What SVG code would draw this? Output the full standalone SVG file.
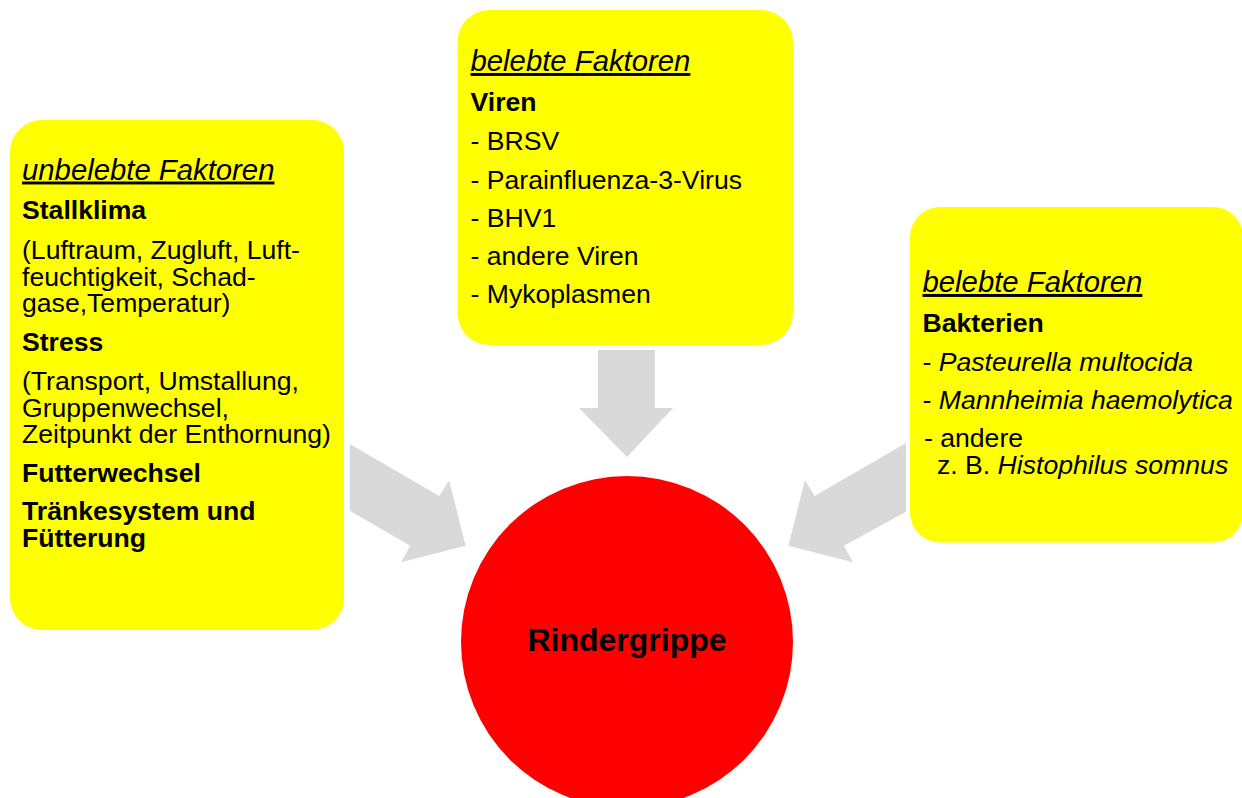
<svg xmlns="http://www.w3.org/2000/svg" width="1242" height="798" viewBox="0 0 1242 798">
<style>
.box{fill:#FFFF00}
.arr{fill:#D9D9D9}
text{font-family:"Liberation Sans",Arial,sans-serif;fill:#000}
.h{font-size:29.3px;font-style:italic;text-decoration:underline}
.b{font-size:26.6px;font-weight:bold}
.t{font-size:26.6px}
.i{font-style:italic}
.c{font-size:32px;font-weight:bold}
</style>
<rect width="1242" height="798" fill="#FFFFFF"/>
<g id="connectors">
<polygon class="arr" points="598,350 655,350 655,408 673,408 627,457 579,408 598,408"/>
<polygon class="arr" points="349.8,444 439.3,496 449.1,480.3 465.6,545.7 401,562.3 410.2,545.7 349.8,510.7"/>
<polygon class="arr" points="906,443 814.7,496 804.9,480.3 788.4,545.7 853,562.3 843.8,545.7 906,511.8"/>
</g>
<g id="node-unbelebt">
<rect class="box" x="10" y="120" width="334" height="510" rx="32"/>
<text class="h" x="22" y="179.5">unbelebte Faktoren</text>
<text class="b" x="22" y="219">Stallklima</text>
<text class="t" x="22" y="259">(Luftraum, Zugluft, Luft-</text>
<text class="t" x="22" y="285.5">feuchtigkeit, Schad-</text>
<text class="t" x="22" y="312">gase,Temperatur)</text>
<text class="b" x="22" y="350.5">Stress</text>
<text class="t" x="22" y="389.5">(Transport, Umstallung,</text>
<text class="t" x="22" y="416.5">Gruppenwechsel,</text>
<text class="t" x="22" y="443">Zeitpunkt der Enthornung)</text>
<text class="b" x="22" y="481.5">Futterwechsel</text>
<text class="b" x="22" y="519.5">Tränkesystem und</text>
<text class="b" x="22" y="547">Fütterung</text>
</g>
<g id="node-viren">
<rect class="box" x="457.5" y="10" width="335.5" height="335" rx="32"/>
<text class="h" x="470.5" y="71">belebte Faktoren</text>
<text class="b" x="470.5" y="111">Viren</text>
<text class="t" x="470.5" y="150">- BRSV</text>
<text class="t" x="470.5" y="188.5">- Parainfluenza-3-Virus</text>
<text class="t" x="470.5" y="227">- BHV1</text>
<text class="t" x="470.5" y="265">- andere Viren</text>
<text class="t" x="470.5" y="303">- Mykoplasmen</text>
</g>
<g id="node-bakterien">
<rect class="box" x="910" y="207" width="333" height="335.5" rx="30"/>
<text class="h" x="922.5" y="292">belebte Faktoren</text>
<text class="b" x="922.5" y="332">Bakterien</text>
<text class="t" x="922.5" y="371">- <tspan class="i">Pasteurella multocida</tspan></text>
<text class="t" x="922.5" y="408.5">- <tspan class="i">Mannheimia haemolytica</tspan></text>
<text class="t" x="924" y="447">- andere</text>
<text class="t" x="937" y="473.5">z. B. <tspan class="i">Histophilus somnus</tspan></text>
</g>
<g id="node-rindergrippe">
<circle cx="627" cy="642" r="166" fill="#FF0000"/>
<text class="c" x="627" y="651" text-anchor="middle">Rindergrippe</text>
</g>
</svg>
